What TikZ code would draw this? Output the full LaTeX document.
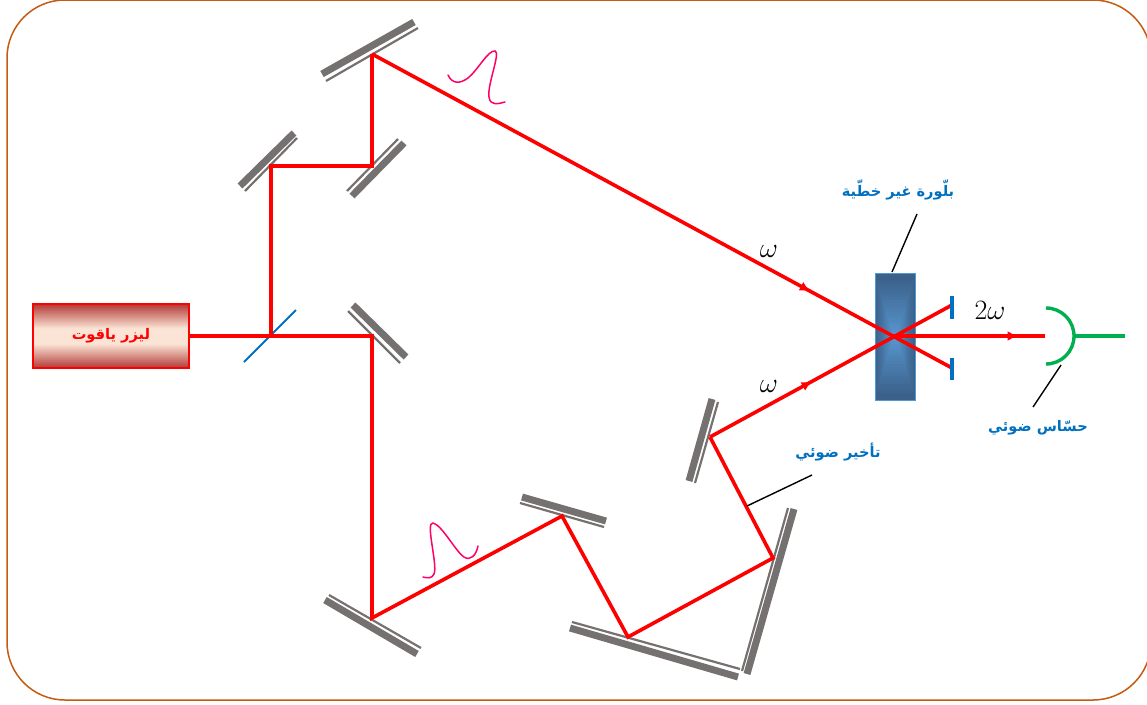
\documentclass[tikz,border=0pt]{standalone}
\usepackage{fontspec}
\usepackage{fix-cm}
\newfontfamily\arabicfont[Script=Arabic]{DejaVu Sans}
\TeXXeTstate=1
\usetikzlibrary{arrows.meta,decorations.markings,calc}
\definecolor{frame}{HTML}{C55A11}
\definecolor{mirrorgrey}{HTML}{767171}
\definecolor{labelblue}{HTML}{0070C0}
\definecolor{beamred}{HTML}{FF0000}
\definecolor{pulsepink}{HTML}{FF0066}
\definecolor{detgreen}{HTML}{00B050}
\definecolor{crystaldark}{HTML}{3B618A}
\definecolor{crystallight}{HTML}{5797D0}
\definecolor{laserdark}{HTML}{B23A36}
\definecolor{laserlight}{HTML}{FBE4D5}
\pgfdeclareverticalshading{lasershade}{100bp}{color(0bp)=(laserdark); color(25bp)=(laserdark); color(44bp)=(laserlight); color(56bp)=(laserlight); color(75bp)=(laserdark); color(100bp)=(laserdark)}
\tikzset{
  frameline/.style={draw=frame,line width=1.5pt,rounded corners=58pt},
  beam/.style={draw=beamred,line width=3.6pt,line join=miter},
  mirrorbar/.style={draw=mirrorgrey,line width=7pt},
  mirrorthin/.style={draw=mirrorgrey,line width=2.2pt},
  leader/.style={draw=black,line width=1.4pt},
  pulse/.style={draw=pulsepink,line width=1.5pt,line cap=round},
  stopbar/.style={draw=labelblue,line width=4pt},
  det/.style={draw=detgreen,line width=3.4pt},
  arlabel/.style={text=labelblue,font=\arabicfont\bfseries\fontsize{14.6}{17}\selectfont,inner sep=0pt},
  omegalabel/.style={inner sep=0pt,text=black},
  midarrow/.style={postaction={decorate,decoration={markings,mark=at position #1 with {\arrow[beamred]{Latex[length=10pt,width=10pt]}}}}}
}
\begin{document}
\begin{tikzpicture}[x=1pt,y=-1pt]
\useasboundingbox (0,0) rectangle (1147,704);
\draw[frameline] (7,0) rectangle (1151,700);

% beam corner points
\coordinate (bs) at (271,336);
\coordinate (p1) at (271,166);
\coordinate (p2) at (372,166);
\coordinate (p3) at (372,54);
\coordinate (x)  at (893,336);
\coordinate (q1) at (372,336);
\coordinate (q2) at (372,618);
\coordinate (q3) at (562,516);
\coordinate (q4) at (628,637);
\coordinate (q5) at (773,558);
\coordinate (q6) at (710,437);
\coordinate (s1) at (952,305);
\coordinate (s2) at (952,368);
\coordinate (o)  at (1045,336);

% mirrors
\foreach \a/\b/\c/\d in {
 322/74/414/22, 240/186/294/133, 352/196/404/143, 353/305/406/357,
 325/600/417/654, 522/497/606/521, 570/628/738/677, 794/509/747/674, 712/399/689/481}{
  \draw[mirrorbar] (\a,\b) -- (\c,\d);
}
\foreach \a/\b/\c/\d in {
 326/81/418/28, 245/191/297/138, 347/191/398/139, 348/311/400/363,
 329/595/421/648, 520/503/604/527, 572/622/740/669, 788/508/742/671, 718/402/695/483}{
  \draw[mirrorthin] (\a,\b) -- (\c,\d);
}

% crystal
\coordinate (cnw) at (875,273);
\coordinate (cse) at (915,400);
\fill[crystaldark] (cnw) rectangle (cse);
\foreach \i in {0,1,...,20}{
  \pgfmathsetmacro{\t}{\i*5}
  \pgfmathsetmacro{\ix}{\i*0.95}
  \pgfmathsetmacro{\iy}{\i*2.9+4}
  \fill[crystallight!\t!crystaldark] ($(cnw)+(\ix,\iy)$) rectangle ($(cse)+(-\ix,-\iy)$);
}
\draw[draw=labelblue!70,line width=1pt] (cnw) rectangle (cse);

% splitter
\draw[draw=labelblue,line width=2pt] (244,362) -- (296,310);

% laser
\node[draw=beamred,line width=2.4pt,minimum width=156pt,minimum height=64pt,shading=lasershade,
  inner sep=0pt,text=beamred,font=\arabicfont\bfseries\fontsize{14.6}{17}\selectfont] (laser) at (111,336) {\beginR ليزر ياقوت\endR};

% beams
\draw[beam] (laser.east) -- (q1) -- (q2) -- (q3) -- (q4) -- (q5) -- (q6);
\draw[beam,midarrow=0.42] (q6) -- (s1);
\draw[beam] (bs) -- (p1) -- (p2) -- (p3);
\draw[beam,midarrow=0.755] (p3) -- (s2);
\draw[beam,midarrow=0.82] (x) -- (o);

% stops
\draw[stopbar] (952,296) -- (952,319);
\draw[stopbar] (952,358) -- (952,380);

% detector
\draw[det] (1046,308) arc[start angle=-90,end angle=90,radius=28];
\draw[det] (1074,336) -- (1125,336);

% leaders
\node[arlabel] (lcrystal) at (898,190) {\beginR بلّورة غير خطّية\endR};
\node[arlabel] (ldet) at (1038,428) {\beginR حسّاس ضوئي\endR};
\node[arlabel] (ldelay) at (838,452) {\beginR تأخير ضوئي\endR};
\coordinate (c1) at (917,214); \coordinate (c2) at (892,272);
\coordinate (d1) at (1061,365); \coordinate (d2) at (1033,407);
\coordinate (e1) at (812,475); \coordinate (e2) at (747,506);
\draw[leader] (c1) -- (c2);
\draw[leader] (d1) -- (d2);
\draw[leader] (e1) -- (e2);

% pulses
\draw[pulse] (448,75) .. controls (452,84) and (460,84) .. (468,78) .. controls (478,70) and (488,50) .. (495,51)
  .. controls (501,52) and (487,85) .. (489,97) .. controls (490,106) and (498,104) .. (505,102);
\draw[pulse] (478,546) .. controls (476,556) and (470,561) .. (464,557) .. controls (456,552) and (442,525) .. (433,523)
  .. controls (425,522) and (438,565) .. (434,574) .. controls (432,579) and (427,578) .. (423,577);

% omegas
\node[omegalabel] (w1) at (769,251) {\fontsize{28}{30}\selectfont$\omega$};
\node[omegalabel] (w2) at (769,386) {\fontsize{28}{30}\selectfont$\omega$};
\node[omegalabel] (w3) at (990,310) {\fontsize{28}{30}\selectfont$2\omega$};
\end{tikzpicture}
\end{document}
